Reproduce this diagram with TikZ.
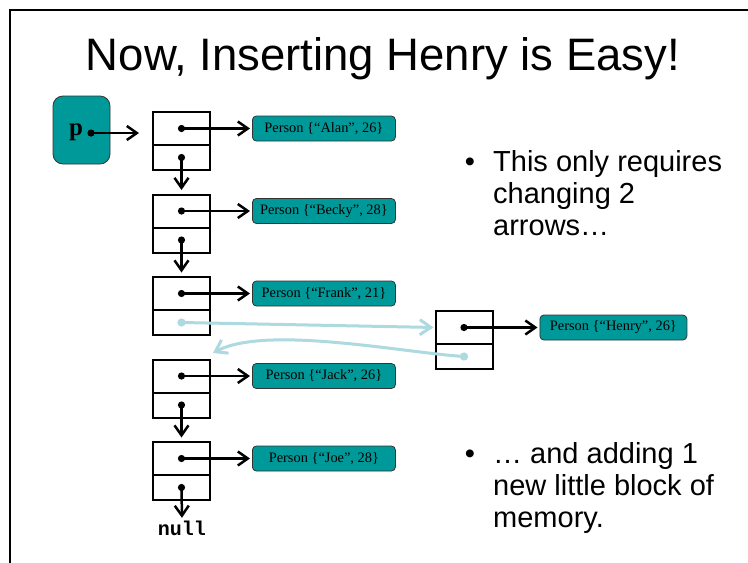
\documentclass[tikz,border=0pt]{standalone}
\usepackage{fontspec}
\setmainfont{Liberation Sans}
\newfontfamily\boxserif{Liberation Serif}
\newfontfamily\boxmono{Liberation Mono}
\usetikzlibrary{arrows.meta, positioning}
\definecolor{boxteal}{RGB}{0,153,153}
\definecolor{newlink}{RGB}{172,218,224}

\begin{document}
\begin{tikzpicture}[x=1pt, y=-1pt,
  cell/.style={draw, line width=2pt, minimum width=57pt, inner sep=0pt, outer sep=0pt},
  headcell/.style={cell, minimum height=33pt},
  nextcell/.style={cell, minimum height=25pt, anchor=north},
  person/.style={draw=black!80, fill=boxteal, line width=0.8pt, rounded corners=4pt,
                 minimum width=143pt, minimum height=25pt, inner sep=0pt,
                 font=\boxserif\fontsize{14.4}{16}\selectfont},
  ptr/.style={{Circle[length=7pt]}-{Straight Barb[length=10pt,width=14pt]},
              line width=2.5pt, shorten <=-3.5pt},
  newptr/.style={{Circle[length=8pt]}-{Straight Barb[length=11pt,width=15pt]},
                 line width=3pt, newlink, shorten <=-4pt},
  point/.style={font=\fontsize{29}{32}\selectfont, inner sep=0pt}
]
\useasboundingbox (0,0) rectangle (748,563);
\draw[line width=2.5pt] (10,563) -- (10,10) -- (748,10);

\node[font=\fontsize{45.5}{50}\selectfont, inner sep=0pt, anchor=base] (title) at (383,70)
  {Now, Inserting Henry is Easy!};

% the head pointer
\node[draw=black!80, fill=boxteal, line width=0.8pt, rounded corners=10pt,
      minimum width=57pt, minimum height=68pt] (pbox) at (81.5,130) {};
\node[font=\boxserif\bfseries\fontsize{25}{28}\selectfont, inner sep=0pt] (plabel) at (76,132.5) {p};
\coordinate (pdot) at (91,133);

% the list
\node[headcell] (alan-head) at (181.5,128.5) {};
\node[nextcell] (alan-next) at (alan-head.south) {};
\node[headcell, below=24.5pt of alan-next] (becky-head) {};
\node[nextcell] (becky-next) at (becky-head.south) {};
\node[headcell, below=24.5pt of becky-next] (frank-head) {};
\node[nextcell] (frank-next) at (frank-head.south) {};
\node[headcell, below=24.5pt of frank-next] (jack-head) {};
\node[nextcell] (jack-next) at (jack-head.south) {};
\node[headcell, below=24.5pt of jack-next] (joe-head) {};
\node[nextcell] (joe-next) at (joe-head.south) {};

\node[person, right=42pt of alan-head] (alan) {Person \{“Alan”, 26\}};
\node[person, right=42pt of becky-head] (becky) {Person \{“Becky”, 28\}};
\node[person, right=42pt of frank-head] (frank) {Person \{“Frank”, 21\}};
\node[person, right=42pt of jack-head] (jack) {Person \{“Jack”, 26\}};
\node[person, right=42pt of joe-head] (joe) {Person \{“Joe”, 28\}};

% the new block
\node[headcell] (henry-head) at (464,327.5) {};
\node[nextcell] (henry-next) at (henry-head.south) {};
\node[person, minimum width=147pt, right=47pt of henry-head] (henry) {Person \{“Henry”, 26\}};

\node[font=\boxmono\bfseries\fontsize{20}{22}\selectfont, inner sep=0pt, anchor=base]
  (null) at (182,535) {null};

\draw[ptr, shorten >=14pt] (pdot) -- (pdot -| alan-head.west);
\foreach \who in {alan, becky, frank, jack, joe, henry}
  \draw[ptr, shorten >=2pt] (\who-head.center) -- (\who);
\foreach \a/\b in {alan/becky, becky/frank, jack/joe}
  \draw[ptr, shorten >=4.5pt] (\a-next.center) -- (\b-head.north);
\draw[ptr, shorten >=2.5pt] (joe-next.center) -- (null.north);

% relinked pointers
\draw[newptr, shorten >=2pt] (frank-next.center) -- (henry-head.west);
\draw[newptr] (henry-next.center) .. controls +(-64,-4.5) and +(52,-28) ..
  ([xshift=3pt, yshift=6.5pt]jack-head.north east);

\node[point, anchor=base] (dot1) at (470,171) {\textbullet};
\node[point, anchor=north west, align=left] (note1) at (493,150)
  {This only requires\\ changing 2\\ arrows…};
\node[point, anchor=base] (dot2) at (470,463) {\textbullet};
\node[point, anchor=north west, align=left] (note2) at (493,442)
  {… and adding 1\\ new little block of\\ memory.};
\end{tikzpicture}
\end{document}
